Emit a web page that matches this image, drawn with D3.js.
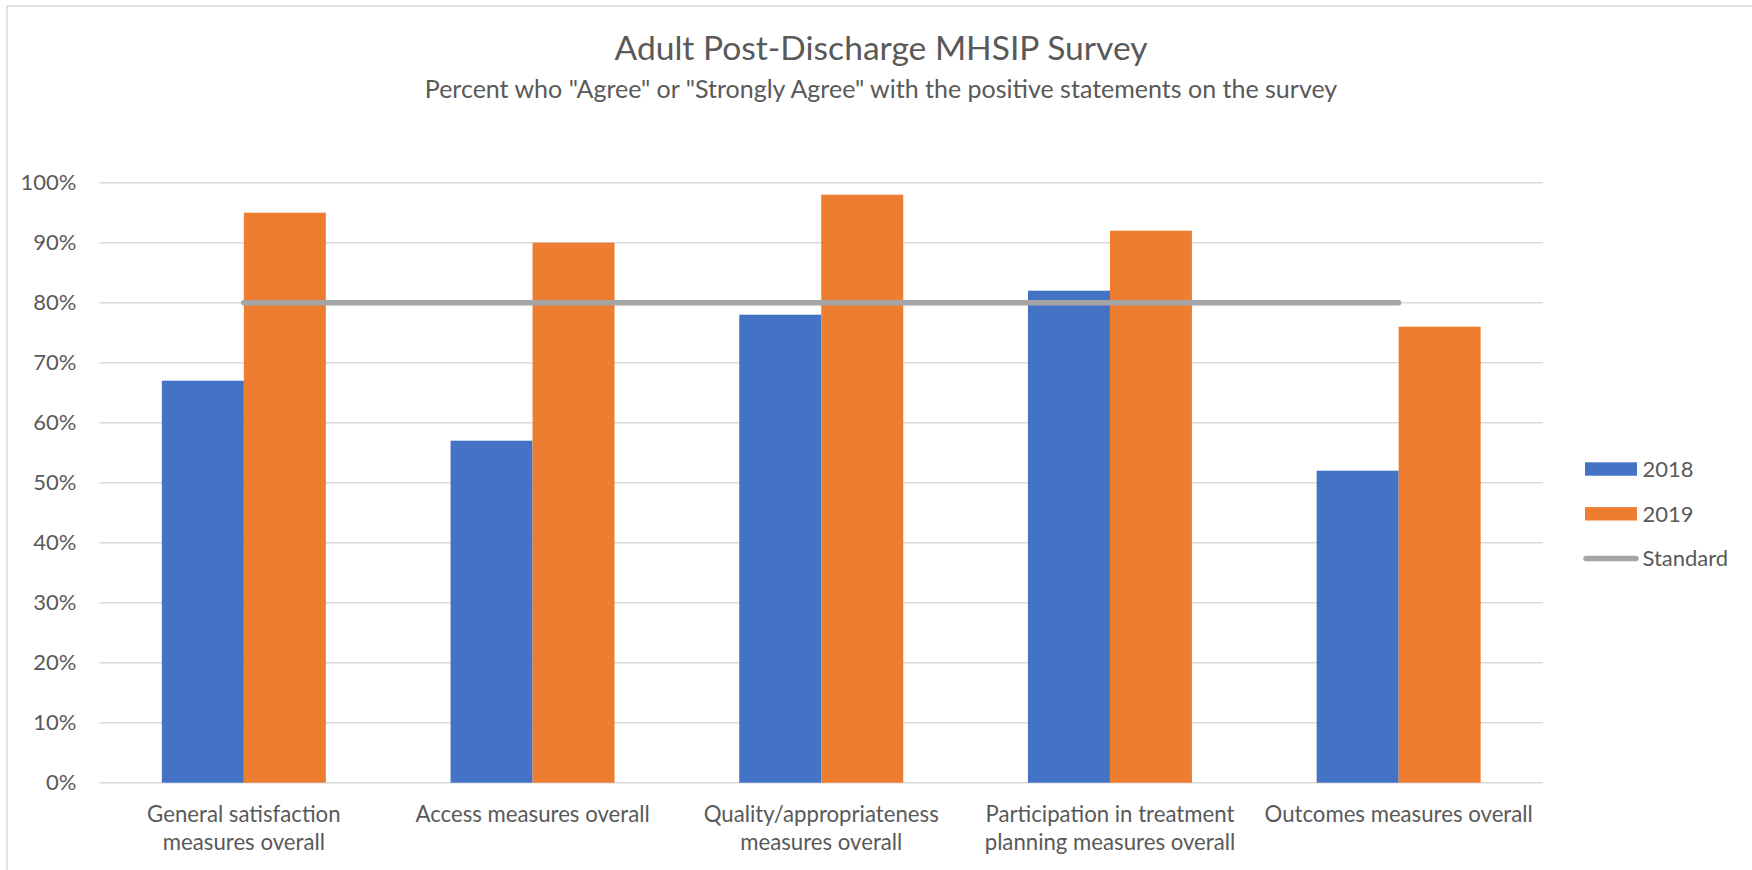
<!DOCTYPE html>
<meta charset="utf-8">
<script src="https://d3js.org/d3.v7.min.js"></script>
<style>
  body { margin: 0; background: #fff; }
  text { font-family: Lato, "Open Sans", sans-serif; fill: #595959; }
</style>
<div id="chart"></div>
<script>
// data
var categories = [
  "General satisfaction measures overall",
  "Access measures overall",
  "Quality/appropriateness measures overall",
  "Participation in treatment planning measures overall",
  "Outcomes measures overall"
];
var seriesNames = ["2018", "2019"];
var values2018 = [0.67, 0.57, 0.78, 0.82, 0.52];
var values2019 = [0.95, 0.90, 0.98, 0.92, 0.76];
var standard = [0.80, 0.80, 0.80, 0.80, 0.80];
var yTicks = [0, 0.1, 0.2, 0.3, 0.4, 0.5, 0.6, 0.7, 0.8, 0.9, 1.0];

var colors = { "2018": "#4472c4", "2019": "#ed7d31", "Standard": "#a5a5a5" };

// text wrapping
function wrap(text, width) {
  text.each(function () {
    var text = d3.select(this),
        words = text.text().split(/\s+/).reverse(),
        word,
        line = [],
        lineNumber = 0,
        lineHeight = 28.5,
        x = 0,
        y = +text.attr("y"),
        tspan = text.text(null).append("tspan").attr("x", x).attr("y", y);
    while (word = words.pop()) {
      line.push(word);
      tspan.text(line.join(" "));
      if (tspan.node().getComputedTextLength() > width) {
        line.pop();
        tspan.text(line.join(" "));
        line = [word];
        tspan = text.append("tspan")
          .attr("x", x)
          .attr("y", y + (++lineNumber) * lineHeight)
          .text(word);
      }
    }
  });
}

var W = 1752, H = 870;
var plot = { left: 99.5, right: 1543, top: 182.7, bottom: 782.7 };

var svg = d3.select("#chart").append("svg")
  .attr("width", W)
  .attr("height", H);

// chart frame
svg.append("path")
  .attr("d", "M7," + H + "V6H" + W)
  .attr("fill", "none")
  .attr("stroke", "#d9d9d9")
  .attr("stroke-width", 1.5);

// titles
svg.append("text")
  .attr("x", 881).attr("y", 60)
  .attr("text-anchor", "middle")
  .style("font-size", "33.6px")
  .text("Adult Post-Discharge MHSIP Survey");

svg.append("text")
  .attr("x", 881).attr("y", 97.5)
  .attr("text-anchor", "middle")
  .style("font-size", "25px")
  .text('Percent who "Agree" or "Strongly Agree" with the positive statements on the survey');

// scales
var x0 = d3.scaleBand()
  .domain(categories)
  .range([plot.left, plot.right])
  .paddingInner(0.432)
  .paddingOuter(0.216);

var x1 = d3.scaleBand()
  .domain(seriesNames)
  .range([0, x0.bandwidth()])
  .padding(0);

var y = d3.scaleLinear()
  .domain([0, 1])
  .range([plot.bottom, plot.top]);

// gridlines
svg.append("g")
  .selectAll("line")
  .data(yTicks)
  .join("line")
  .attr("x1", plot.left)
  .attr("x2", plot.right)
  .attr("y1", d => y(d))
  .attr("y2", d => y(d))
  .attr("stroke", "#d9d9d9")
  .attr("stroke-width", 1.5);

// y axis
var yAxis = svg.append("g")
  .attr("transform", "translate(" + plot.left + ",0)")
  .call(d3.axisLeft(y).tickValues(yTicks).tickFormat(d3.format(".0%")).tickSize(0).tickPadding(23));
yAxis.select(".domain").remove();
yAxis.selectAll("text")
  .style("font-size", "22px")
  .style("font-family", "Lato, sans-serif")
  .attr("fill", "#595959");

// bars
var rows = categories.map((c, i) => ({ cat: c, vals: [
  { key: "2018", value: values2018[i] },
  { key: "2019", value: values2019[i] }
]}));

svg.append("g")
  .selectAll("g")
  .data(rows)
  .join("g")
  .attr("transform", d => "translate(" + x0(d.cat) + ",0)")
  .selectAll("rect")
  .data(d => d.vals)
  .join("rect")
  .attr("x", d => x1(d.key))
  .attr("y", d => y(d.value))
  .attr("width", x1.bandwidth())
  .attr("height", d => y(0) - y(d.value))
  .attr("fill", d => colors[d.key]);

// x axis labels
var xAxis = svg.append("g")
  .attr("transform", "translate(0," + plot.bottom + ")")
  .call(d3.axisBottom(x0).tickSize(0).tickPadding(0));
xAxis.select(".domain").remove();
xAxis.selectAll("text")
  .attr("y", 39)
  .attr("dy", null)
  .style("font-size", "22.2px")
  .style("font-family", "Lato, sans-serif")
  .attr("fill", "#595959")
  .call(wrap, 275);

// standard line
var line = d3.line()
  .x((d, i) => x0(categories[i]) + x0.bandwidth() / 2)
  .y(d => y(d));

svg.append("path")
  .datum(standard)
  .attr("d", line)
  .attr("fill", "none")
  .attr("stroke", colors.Standard)
  .attr("stroke-width", 5.5)
  .attr("stroke-linecap", "round");

// legend
var legend = svg.append("g");
var legendItems = ["2018", "2019", "Standard"];
legendItems.forEach(function (name, i) {
  var cy = 469 + i * 44.8;
  if (name === "Standard") {
    legend.append("line")
      .attr("x1", 1586).attr("x2", 1636)
      .attr("y1", cy).attr("y2", cy)
      .attr("stroke", colors.Standard)
      .attr("stroke-width", 5.5)
      .attr("stroke-linecap", "round");
  } else {
    legend.append("rect")
      .attr("x", 1585).attr("y", cy - 6.7)
      .attr("width", 52).attr("height", 13.4)
      .attr("fill", colors[name]);
  }
  legend.append("text")
    .attr("x", 1642.5).attr("y", cy + 7.7)
    .style("font-size", "22px")
    .text(name);
});
</script>
